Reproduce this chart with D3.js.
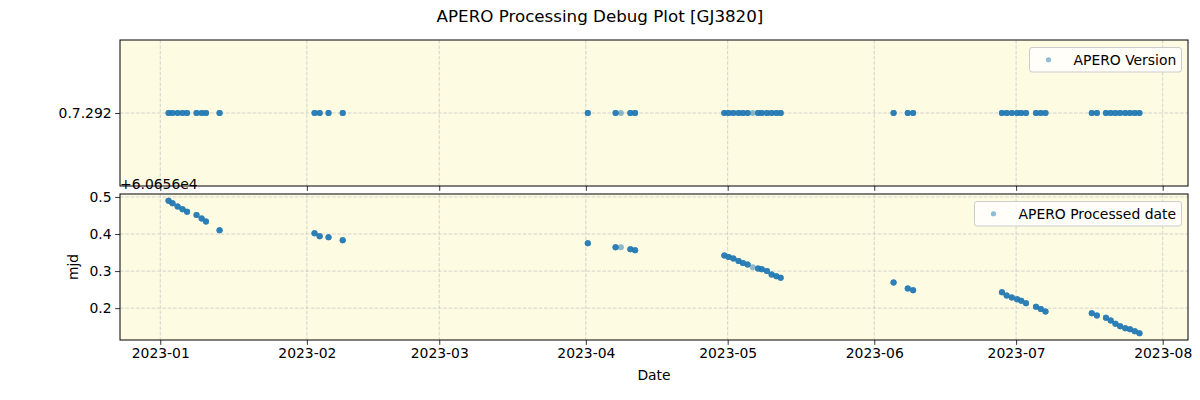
<!DOCTYPE html>
<html>
<head>
<meta charset="utf-8">
<script src="https://cdn.jsdelivr.net/npm/d3@7"></script>
<style>
  body { margin: 0; background: #ffffff; }
  svg { display: block; font-family: "DejaVu Sans", sans-serif; }
</style>
</head>
<body>
<svg id="chart" width="1200" height="400"></svg>
<script>
// ---- data ----
const title = "APERO Processing Debug Plot [GJ3820]";
const obsDates = [
  "2023-01-02T18:00Z","2023-01-03T14:00Z","2023-01-04T16:00Z","2023-01-05T17:00Z","2023-01-06T16:00Z",
  "2023-01-08T16:00Z","2023-01-09T18:00Z","2023-01-10T16:00Z","2023-01-13T13:00Z",
  "2023-02-02T15:00Z","2023-02-03T17:00Z","2023-02-05T14:00Z","2023-02-08T14:00Z",
  "2023-04-01T10:00Z","2023-04-07T07:00Z","2023-04-08T10:00Z","2023-04-10T10:00Z","2023-04-11T10:00Z",
  "2023-04-30T07:00Z","2023-05-01T05:00Z","2023-05-02T05:00Z","2023-05-03T07:00Z","2023-05-04T05:00Z",
  "2023-05-05T05:00Z","2023-05-06T07:00Z","2023-05-07T10:00Z","2023-05-08T05:00Z","2023-05-09T07:00Z",
  "2023-05-10T07:00Z","2023-05-11T07:00Z","2023-05-12T05:00Z",
  "2023-06-05T02:00Z","2023-06-08T02:00Z","2023-06-09T05:00Z",
  "2023-06-28T00:00Z","2023-06-29T00:00Z","2023-06-30T02:00Z","2023-07-01T05:00Z","2023-07-02T02:00Z",
  "2023-07-03T02:00Z","2023-07-05T05:00Z","2023-07-06T05:00Z","2023-07-07T05:00Z",
  "2023-07-17T00:00Z","2023-07-18T02:00Z","2023-07-20T00:00Z","2023-07-21T00:00Z","2023-07-22T00:00Z",
  "2023-07-23T00:00Z","2023-07-24T02:00Z","2023-07-25T02:00Z","2023-07-26T02:00Z","2023-07-27T02:00Z"
];
// processed date (mjd - 60656)
const processedMjd = [
  0.490,0.483,0.474,0.467,0.460,
  0.451,0.442,0.434,0.410,
  0.402,0.394,0.391,0.383,
  0.375,0.364,0.364,0.359,0.356,
  0.342,0.338,0.334,0.327,0.322,
  0.318,0.310,0.307,0.305,0.300,
  0.291,0.286,0.282,
  0.269,0.253,0.248,
  0.243,0.234,0.229,0.224,0.220,
  0.213,0.204,0.198,0.191,
  0.186,0.180,0.174,0.167,0.158,
  0.151,0.146,0.143,0.138,0.132
];
// number of files per night (overlapping markers)
const fileCounts = [
  4,4,4,4,4, 4,4,4,4, 4,4,4,4, 4,4,1,4,4,
  4,4,4,4,4, 4,1,4,4,4, 4,4,4, 4,4,4,
  4,4,4,4,4, 4,4,4,4, 4,4,4,4,4, 4,4,4,4,4
];
const versionLabel = "0.7.292";
const versions = obsDates.map(() => versionLabel);
const mjdOffsetText = "+6.0656e4";
const xTickDates = ["2023-01-01","2023-02-01","2023-03-01","2023-04-01","2023-05-01","2023-06-01","2023-07-01","2023-08-01"];
const yTicksBottom = [0.2, 0.3, 0.4, 0.5];
const legendTop = "APERO Version";
const legendBottom = "APERO Processed date";
const xLabel = "Date";
const yLabelBottom = "mjd";

// ---- layout ----
const svg = d3.select("#chart");
const L = 120, R = 1188;
const top1 = 40, bot1 = 186, top2 = 194, bot2 = 340;
const bg = "rgb(253,251,226)";
const pointColor = "#1f77b4";
const fs = 13.9;

const dates = obsDates.map(s => new Date(s));
const points = dates.map((d, i) => ({date: d, mjd: processedMjd[i], ver: versions[i], n: fileCounts[i]}));

const ext = d3.extent(dates, d => +d);
const pad = (ext[1] - ext[0]) * 0.05;
const x = d3.scaleUtc().domain([new Date(ext[0] - pad), new Date(ext[1] + pad)]).range([L, R]);

const yExt = d3.extent(processedMjd);
const yPad = (yExt[1] - yExt[0]) * 0.05;
const y2 = d3.scaleLinear().domain([yExt[0] - yPad, yExt[1] + yPad]).range([bot2, top2]);
const y1 = d3.scalePoint().domain([versionLabel]).range([bot1, top1]).padding(0.5);

const xTicks = xTickDates.map(s => new Date(s + "T00:00Z"));
const gridStyle = g => g.attr("stroke", "#c9c9c9").attr("stroke-width", 0.8).attr("stroke-dasharray", "3.7,1.6");

function panel(y0, y1p, yTickVals, yScale, yFmt, withXLabels) {
  const g = svg.append("g");
  g.append("rect").attr("x", L).attr("y", y0).attr("width", R - L).attr("height", y1p - y0).attr("fill", bg);
  const gg = g.append("g");
  xTicks.forEach(t => {
    gg.append("line").attr("x1", x(t)).attr("x2", x(t)).attr("y1", y0).attr("y2", y1p).call(gridStyle);
  });
  yTickVals.forEach(v => {
    gg.append("line").attr("x1", L).attr("x2", R).attr("y1", yScale(v)).attr("y2", yScale(v)).call(gridStyle);
  });
  const xa = g.append("g").attr("transform", `translate(0,${y1p})`)
    .call(d3.axisBottom(x).tickValues(xTicks).tickSize(4.9).tickPadding(3.5).tickFormat(withXLabels ? d3.utcFormat("%Y-%m") : ""));
  const ya = g.append("g").attr("transform", `translate(${L},0)`)
    .call(d3.axisLeft(yScale).tickValues(yTickVals).tickSize(4.9).tickPadding(3.5).tickFormat(yFmt));
  [xa, ya].forEach(a => {
    a.select(".domain").remove();
    a.selectAll("line").attr("stroke", "#000").attr("stroke-width", 0.8);
    a.selectAll("text").attr("font-size", fs).attr("fill", "#000").attr("font-family", "DejaVu Sans, sans-serif");
  });
  g.append("rect").attr("x", L).attr("y", y0).attr("width", R - L).attr("height", y1p - y0)
    .attr("fill", "none").attr("stroke", "#000").attr("stroke-width", 1);
  return g;
}

const g1 = panel(top1, bot1, [versionLabel], y1, d => d, false);
const g2 = panel(top2, bot2, yTicksBottom, y2, d3.format(".1f"), true);

function expand(p) { return d3.range(p.n).map(() => p); }
const expanded = points.flatMap(expand);
g1.append("g").selectAll("circle").data(expanded).join("circle")
  .attr("cx", d => x(d.date)).attr("cy", d => y1(d.ver)).attr("r", 3)
  .attr("fill", pointColor).attr("fill-opacity", 0.5);
g2.append("g").selectAll("circle").data(expanded).join("circle")
  .attr("cx", d => x(d.date)).attr("cy", d => y2(d.mjd)).attr("r", 3)
  .attr("fill", pointColor).attr("fill-opacity", 0.5);

function legend(g, x0, y0, w, h, label) {
  g.append("rect").attr("x", x0).attr("y", y0).attr("width", w).attr("height", h).attr("rx", 2.5)
    .attr("fill", "#fff").attr("fill-opacity", 0.8).attr("stroke", "#cccccc").attr("stroke-width", 1);
  g.append("circle").attr("cx", x0 + 19).attr("cy", y0 + h / 2).attr("r", 2.6)
    .attr("fill", pointColor).attr("fill-opacity", 0.5);
  g.append("text").attr("x", x0 + 44).attr("y", y0 + h / 2).attr("dy", "0.35em")
    .attr("font-size", fs).attr("fill", "#000").text(label);
}
legend(g1, 1029.5, 47.5, 152, 24.5, legendTop);
legend(g2, 974.5, 201.5, 207, 24.5, legendBottom);

svg.append("text").attr("x", L).attr("y", 189).attr("font-size", fs).attr("fill", "#000").text(mjdOffsetText);

svg.append("text").attr("x", 600).attr("y", 22).attr("text-anchor", "middle").attr("font-size", 16.7).attr("fill", "#000").text(title);
svg.append("text").attr("x", (L + R) / 2).attr("y", 380).attr("text-anchor", "middle").attr("font-size", fs).attr("fill", "#000").text(xLabel);
svg.append("text").attr("transform", `translate(78,${(top2 + bot2) / 2}) rotate(-90)`).attr("text-anchor", "middle")
  .attr("font-size", fs).attr("fill", "#000").text(yLabelBottom);
</script>
</body>
</html>
